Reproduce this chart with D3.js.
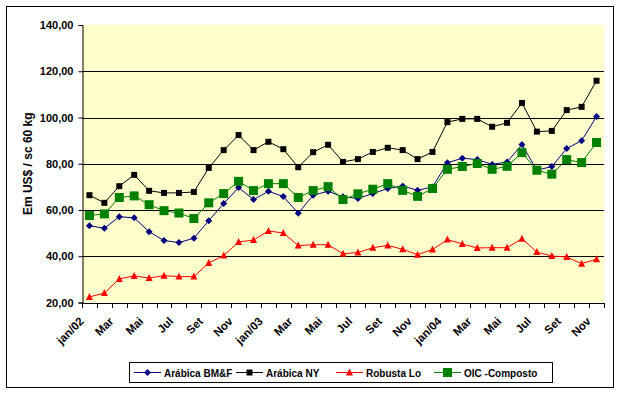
<!DOCTYPE html>
<html lang="pt">
  <head>
    <meta charset="UTF-8" />
    <title>Preços do café</title>
    <script src="https://d3js.org/d3.v7.min.js"></script>
    <style>
      body {
        margin: 0;
        background: #fff;
      }
      text {
        font-family: "Liberation Sans", Arial, sans-serif;
        font-weight: bold;
        fill: #000;
      }
      .tick-label {
        font-size: 11px;
      }
      .x-label {
        font-size: 11.5px;
      }
      .legend-label {
        font-size: 10px;
      }
    </style>
  </head>
  <body>
    <svg id="chart" width="620" height="393"></svg>
    <script>
      // months jan/02 .. nov/04
      const months = [
        "jan/02", "Fev", "Mar", "Abr", "Mai", "Jun", "Jul", "Ago", "Set", "Out", "Nov", "Dez",
        "jan/03", "Fev", "Mar", "Abr", "Mai", "Jun", "Jul", "Ago", "Set", "Out", "Nov", "Dez",
        "jan/04", "Fev", "Mar", "Abr", "Mai", "Jun", "Jul", "Ago", "Set", "Out", "Nov",
      ];

      const arabicaBMF = [
        53.2, 52.1, 57.1, 56.6, 50.6, 46.8, 45.9, 47.8, 55.4, 62.8, 69.7, 64.5,
        68.1, 65.8, 58.6, 66.4, 68.1, 65.7, 65.0, 67.1, 69.3, 70.4, 68.5, 70.0,
        80.4, 82.4, 81.8, 79.7, 80.8, 88.3, 77.2, 78.8, 86.6, 90.0, 100.4,
      ];
      const arabicaNY = [
        66.4, 63.1, 70.3, 75.2, 68.3, 67.4, 67.4, 67.8, 78.2, 85.9, 92.4, 85.9,
        89.5, 86.3, 78.5, 85.0, 88.2, 80.8, 82.0, 85.1, 86.9, 85.9, 82.0, 85.1,
        98.0, 99.4, 99.4, 96.0, 97.7, 106.3, 93.9, 94.2, 103.2, 104.6, 115.9,
      ];
      const robustaLo = [
        22.4, 24.1, 30.2, 31.5, 30.6, 31.6, 31.2, 31.2, 37.1, 40.3, 46.2, 47.0,
        50.9, 50.1, 44.6, 45.0, 45.0, 41.1, 41.6, 43.7, 44.7, 43.0, 40.7, 42.9,
        47.2, 45.3, 43.6, 43.7, 43.7, 47.6, 41.8, 40.1, 39.7, 36.8, 38.7,
      ];
      const oicComposto = [
        57.6, 58.3, 65.4, 66.1, 62.3, 59.7, 58.7, 56.3, 63.1, 67.1, 72.4, 68.4,
        71.4, 71.4, 65.4, 68.4, 70.1, 64.5, 67.0, 69.0, 71.4, 68.5, 65.9, 69.3,
        77.6, 78.8, 80.1, 77.6, 78.9, 84.8, 77.2, 75.5, 81.8, 80.5, 89.2,
      ];

      const yTicks = [20, 40, 60, 80, 100, 120, 140];
      const seriesNames = ["Arábica BM&F", "Arábica NY", "Robusta Lo", "OIC -Composto"];

      const series = [
        { name: seriesNames[0], values: arabicaBMF, color: "#000080", marker: "diamond", size: 7 },
        { name: seriesNames[1], values: arabicaNY, color: "#000000", marker: "square", size: 6 },
        { name: seriesNames[2], values: robustaLo, color: "#ff0000", marker: "triangle", size: 7 },
        { name: seriesNames[3], values: oicComposto, color: "#008000", marker: "square", size: 9 },
      ];

      const svg = d3.select("#chart");
      const plot = { left: 82, right: 604, top: 25, bottom: 302.5 };

      // outer frame
      svg
        .append("rect")
        .attr("x", 6.5)
        .attr("y", 6.5)
        .attr("width", 607)
        .attr("height", 381)
        .attr("fill", "#fff")
        .attr("stroke", "#000")
        .attr("stroke-width", 1);

      const x = d3
        .scaleBand()
        .domain(d3.range(months.length))
        .range([plot.left, plot.right]);
      const cx = (i) => x(i) + x.bandwidth() / 2;

      const y = d3.scaleLinear().domain([20, 140]).range([plot.bottom, plot.top]);

      // plot area
      svg
        .append("rect")
        .attr("x", plot.left)
        .attr("y", plot.top)
        .attr("width", plot.right - plot.left)
        .attr("height", plot.bottom - plot.top)
        .attr("fill", "#ffffcc");

      // gridlines
      svg
        .append("g")
        .selectAll("line")
        .data(yTicks.filter((d) => d > 20 && d < 140))
        .join("line")
        .attr("x1", plot.left)
        .attr("x2", plot.right)
        .attr("y1", (d) => Math.round(y(d)) + 0.5)
        .attr("y2", (d) => Math.round(y(d)) + 0.5)
        .attr("stroke", "#000");

      // y axis
      const yAxis = svg
        .append("g")
        .attr("transform", `translate(${plot.left + 0.5},0)`)
        .call(
          d3
            .axisLeft(y)
            .tickValues(yTicks)
            .tickSize(4)
            .tickPadding(5)
            .tickFormat((d) => d3.format(".2f")(d).replace(".", ","))
        );
      yAxis.attr("font-family", null).attr("font-size", null);
      yAxis.select(".domain").attr("stroke", "#000");
      yAxis.selectAll(".tick line").attr("stroke", "#000");
      yAxis.selectAll(".tick text").attr("class", "tick-label");

      // x axis: ticks on category boundaries
      const xAxis = svg.append("g");
      xAxis
        .append("line")
        .attr("x1", plot.left)
        .attr("x2", plot.right + 0.5)
        .attr("y1", Math.round(plot.bottom) + 0.5)
        .attr("y2", Math.round(plot.bottom) + 0.5)
        .attr("stroke", "#000");
      xAxis
        .selectAll("line.xt")
        .data(d3.range(months.length + 1))
        .join("line")
        .attr("class", "xt")
        .attr("x1", (i) => Math.round(plot.left + i * x.step()) + 0.5)
        .attr("x2", (i) => Math.round(plot.left + i * x.step()) + 0.5)
        .attr("y1", Math.round(plot.bottom))
        .attr("y2", Math.round(plot.bottom) + 5)
        .attr("stroke", "#000");
      xAxis
        .selectAll("text")
        .data(months.map((m, i) => ({ m, i })).filter((d) => d.i % 2 === 0))
        .join("text")
        .attr("class", "x-label")
        .attr("text-anchor", "end")
        .attr("transform", (d) => `translate(${cx(d.i) - 5},322) rotate(-45)`)
        .text((d) => d.m);

      // y title
      svg
        .append("text")
        .attr("transform", `translate(32,${(plot.top + plot.bottom) / 2}) rotate(-90)`)
        .attr("text-anchor", "middle")
        .attr("font-size", 12)
        .text("Em US$ / sc 60 kg");

      const symbols = {
        diamond: (s) => `M0,${-s / 2}L${s / 2},0L0,${s / 2}L${-s / 2},0Z`,
        square: (s) => `M${-s / 2},${-s / 2}h${s}v${s}h${-s}Z`,
        triangle: (s) => `M0,${-s / 2 - 0.5}L${s / 2},${s / 2 - 0.5}L${-s / 2},${s / 2 - 0.5}Z`,
      };

      const line = d3
        .line()
        .x((d, i) => cx(i))
        .y((d) => y(d));

      series.forEach((s) => {
        const g = svg.append("g");
        g.append("path")
          .attr("d", line(s.values))
          .attr("fill", "none")
          .attr("stroke", s.color)
          .attr("stroke-width", 1);
        g.selectAll("path.m")
          .data(s.values)
          .join("path")
          .attr("class", "m")
          .attr("transform", (d, i) => `translate(${cx(i)},${y(d)})`)
          .attr("d", symbols[s.marker](s.size))
          .attr("fill", s.color);
      });

      // legend
      const legend = svg.append("g");
      legend
        .append("rect")
        .attr("x", 129.5)
        .attr("y", 362.5)
        .attr("width", 423)
        .attr("height", 20)
        .attr("fill", "#fff")
        .attr("stroke", "#000");

      const legendX = [134, 236, 336, 434];
      series.forEach((s, k) => {
        const lx = legendX[k];
        const ly = 372.5;
        legend
          .append("line")
          .attr("x1", lx)
          .attr("x2", lx + 27)
          .attr("y1", ly)
          .attr("y2", ly)
          .attr("stroke", s.color);
        legend
          .append("path")
          .attr("transform", `translate(${lx + 13.5},${ly})`)
          .attr("d", symbols[s.marker](s.size))
          .attr("fill", s.color);
        legend
          .append("text")
          .attr("class", "legend-label")
          .attr("x", lx + 30)
          .attr("y", ly + 4)
          .text(s.name);
      });
    </script>
  </body>
</html>
